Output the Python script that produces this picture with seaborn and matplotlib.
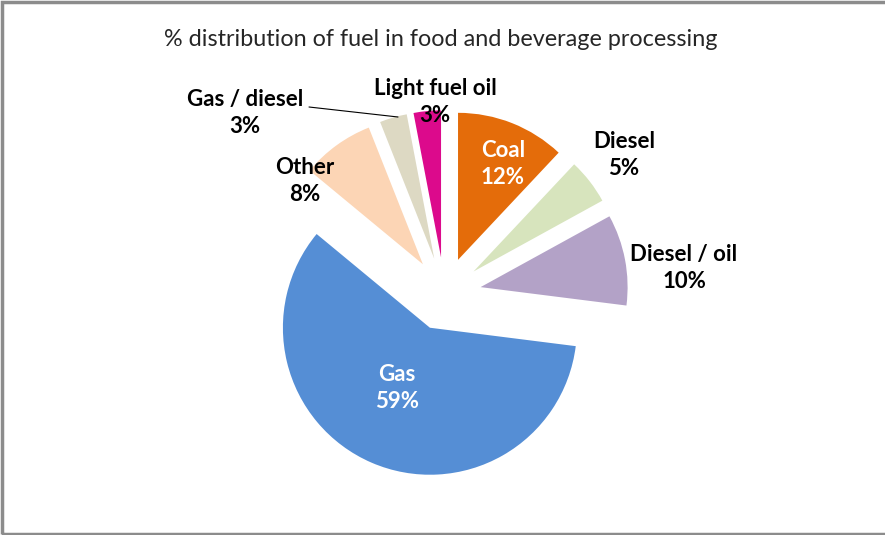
import matplotlib
matplotlib.use("Agg")
import matplotlib.pyplot as plt
from matplotlib.patches import Rectangle
import seaborn as sns

# data (clockwise from 12 o'clock)
fuels = ["Coal", "Diesel", "Diesel / oil", "Gas", "Other", "Gas / diesel", "Light fuel oil"]
shares = [12, 5, 10, 59, 8, 3, 3]
colours = ["#E46C0A", "#D7E4BD", "#B3A2C7", "#558ED5", "#FCD5B5", "#DDD9C3", "#DC0A8C"]

sns.set_style("white")
plt.rcParams["font.family"] = ["Lato", "DejaVu Sans"]

W, H = 885, 535
PX = 147.0            # pixels per unit of pie radius
CX, CY = 444.5, 294   # pie centre in image pixels (from top)


def px(x, y):
    # image pixel -> data coords
    return (x - CX) / PX, (CY - y) / PX


fig = plt.figure(figsize=(W / 100, H / 100), dpi=100)
ax = fig.add_axes([0, 0, 1, 1])

wedges, _ = ax.pie(shares, colors=colours, startangle=90, counterclock=False,
                   explode=[0.25] * len(shares), radius=1.0,
                   wedgeprops=dict(linewidth=0))

ax.set_xlim(-CX / PX, (W - CX) / PX)
ax.set_ylim(-(H - CY) / PX, CY / PX)
ax.set_aspect("equal")
ax.axis("off")

# label centres in image pixels
label_pos = {
    "Coal": (503, 164),
    "Diesel": (624, 155),
    "Diesel / oil": (684, 268),
    "Gas": (397, 388),
    "Other": (305, 181),
    "Gas / diesel": (245, 113),
    "Light fuel oil": (435, 102),
}
inside = {"Coal", "Gas"}

for name, val in zip(fuels, shares):
    x, y = px(*label_pos[name])
    ax.text(x, y, f"{name}\n{val}%", ha="center", va="center",
            fontsize=16, fontweight="bold", linespacing=1.4,
            color="white" if name in inside else "black")

# leader line for Gas / diesel
x0, y0 = px(309, 107)
x1, y1 = px(398, 117)
ax.plot([x0, x1], [y0, y1], color="black", lw=0.8)

fig.text(441 / W, 1 - 40 / H, "% distribution of fuel in food and beverage processing",
         ha="center", va="center", fontsize=16.8)

# chart border
fig.add_artist(Rectangle((2 / W, 1.5 / H), 1.0, (H - 3.5) / H, transform=fig.transFigure,
                         fill=False, edgecolor="#8c8c8c", lw=2.5))

fig.savefig("out.png", dpi=100)
